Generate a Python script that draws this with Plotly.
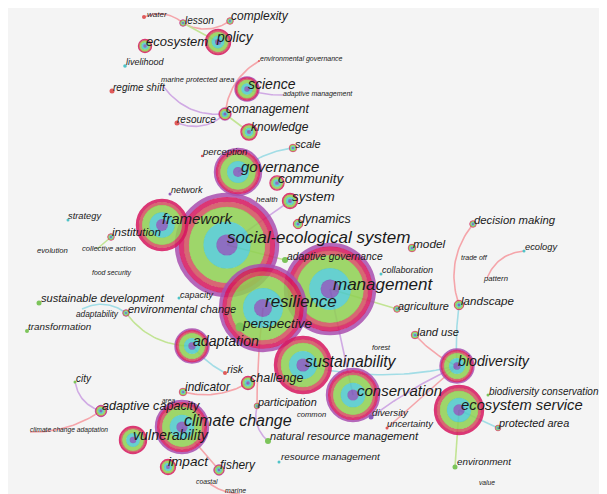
import plotly.graph_objects as go
import numpy as np

# ---------------- data ----------------
names = [
    "water", "lesson", "complexity", "policy", "ecosystem", "livelihood",
    "environmental governance", "marine protected area", "regime shift", "science",
    "adaptive management", "comanagement", "resource", "knowledge", "scale",
    "perception", "governance", "community", "system", "health", "dynamics",
    "network", "strategy", "framework", "institution", "evolution",
    "collective action", "food security", "social-ecological system", "model",
    "adaptive governance", "collaboration", "management", "decision making",
    "ecology", "trade off", "pattern", "landscape", "agriculture",
    "sustainable development", "capacity", "adaptability", "environmental change",
    "transformation", "resilience", "perspective", "forest", "land use",
    "sustainability", "biodiversity", "challenge", "risk", "indicator",
    "adaptation", "conservation", "ecosystem service", "biodiversity conservation",
    "protected area", "diversity", "uncertainty", "common", "participation",
    "natural resource management", "resource management", "city",
    "adaptive capacity", "climate change adaptation", "area", "climate change",
    "vulnerability", "impact", "fishery", "coastal", "marine", "environment", "value",
]

# node layout (network coordinates) and node size (radius)
node_x = [144, 183, 230, 218, 145, 125, 259, 163, 112, 247, 283, 225, 177, 249, 293,
          202, 238, 277, 290, 270, 298, 170, 68, 162, 111, 37, 97, 92, 227, 412,
          285, 381, 330, 473, 524, 470, 487, 459, 397, 39, 179, 82, 126, 27, 263,
          240, 372, 415, 303, 457, 248, 225, 183, 192, 353, 459, 488, 498, 371, 387,
          297, 257, 268, 279, 75, 101, 30, 162, 182, 133, 168, 219, 210, 240, 455, 479]
node_y = [17, 23, 21, 42, 46, 66, 61, 86, 91, 89, 95, 114, 123, 132, 148,
          156, 172, 183, 201, 202, 224, 194, 220, 225, 237, 251, 249, 273, 245, 248,
          260, 274, 289, 224, 251, 258, 278, 305, 309, 303, 298, 309, 313, 331, 308,
          327, 348, 335, 365, 366, 383, 373, 392, 346, 395, 410, 395, 428, 417, 428,
          415, 406, 441, 462, 382, 411, 432, 401, 427, 440, 467, 470, 484, 494, 467, 483]
node_r = [2, 3.5, 3.5, 13, 7, 1.8, 1, 0, 2.5, 12.5, 0, 6.5, 2.5, 8.5, 4,
          1.2, 24, 7.5, 8, 0, 5, 1.5, 1.5, 26, 3.5, 0, 0, 0, 52, 4,
          3, 1.5, 46, 3.5, 1.5, 0, 0, 5, 3.5, 2.5, 1.5, 0, 3.5, 2, 44,
          4.5, 0, 4, 29, 17.5, 7, 2, 4, 17.5, 27, 25, 1.5, 3, 2.5, 1.5,
          0, 3, 3, 1.5, 1.5, 6, 0, 0, 27, 14, 8, 5.5, 0, 0, 2.5, 0]

# label anchors and label sizes
label_x = [147, 185, 231, 217, 146, 126, 260, 161, 113, 248, 283, 226, 177, 251, 295,
           203, 241, 278, 292, 256, 298, 171, 68, 162, 112, 37, 82, 92, 227, 413,
           287, 382, 333, 474, 525, 461, 484, 461, 398, 41, 180, 76, 128, 28, 265,
           243, 372, 417, 305, 458, 250, 227, 185, 193, 357, 461, 489, 499, 372, 387,
           297, 258, 270, 281, 76, 102, 30, 162, 184, 133, 168, 220, 196, 225, 457, 479]
label_y = [15, 21, 17, 38, 43, 63, 59, 80, 88, 85, 94, 110, 120, 128, 145,
           153, 168, 180, 198, 200, 220, 191, 217, 220, 233, 251, 249, 273, 239, 245,
           257, 271, 286, 221, 248, 258, 279, 302, 307, 299, 296, 315, 310, 328, 303,
           325, 348, 333, 363, 362, 379, 370, 388, 342, 392, 406, 392, 424, 414, 425,
           415, 403, 437, 458, 379, 407, 430, 401, 422, 436, 463, 466, 482, 491, 463, 483]
label_size = [8, 10, 12, 14, 13, 9, 7, 7.5, 10, 14, 7, 12, 10, 12, 11,
              9.5, 15, 13.5, 13.5, 8, 12.5, 9, 9.3, 15, 11.6, 7.7, 7.6, 6.9, 17, 11.8,
              10.3, 9, 17, 11.3, 9.3, 7, 7.7, 11.6, 10.9, 11.1, 9, 8.3, 11, 9.9, 17,
              13.5, 7.2, 11.1, 15.8, 14.2, 12.5, 10.3, 11.9, 14.1, 15, 14.8, 10, 10.9, 9.8, 9.4,
              7.6, 10.9, 11.1, 9.9, 10, 12.6, 6.7, 6.5, 16, 14.2, 13.6, 11.9, 6.8, 6.9, 9.8, 6.7]

# co-occurrence links: (from, to)
edge_from = ["water", "lesson", "lesson", "environmental governance", "marine protected area",
             "resource", "science", "comanagement", "governance", "system",
             "decision making", "ecology", "landscape", "land use", "sustainability",
             "diversity", "uncertainty", "ecosystem service", "ecosystem service",
             "adaptation", "indicator", "resilience", "participation", "climate change",
             "city", "climate change adaptation", "institution", "adaptability",
             "environmental change", "management", "social-ecological system",
             "management", "coastal"]
edge_to = ["lesson", "complexity", "policy", "comanagement", "comanagement",
           "comanagement", "adaptive management", "knowledge", "scale", "social-ecological system",
           "landscape", "pattern", "biodiversity", "biodiversity", "biodiversity",
           "biodiversity", "biodiversity", "protected area", "environment",
           "risk", "challenge", "participation", "natural resource management", "fishery",
           "adaptive capacity", "adaptive capacity", "collective action", "environmental change",
           "adaptation", "agriculture", "adaptive governance",
           "conservation", "marine"]

# ---------------- styles ----------------
PINK, GREEN, CYAN, LAV = "#f5a5aa", "#c2e494", "#a2dde6", "#d0aae4"
edge_color = [PINK, PINK, GREEN, PINK, LAV,
              LAV, LAV, GREEN, CYAN, LAV,
              PINK, PINK, CYAN, PINK, CYAN,
              LAV, PINK, CYAN, GREEN,
              CYAN, PINK, PINK, LAV, PINK,
              LAV, PINK, GREEN, CYAN,
              GREEN, GREEN, GREEN,
              LAV, PINK]
edge_bend = [-0.3, 0.3, 0, 0.25, 0.28,
             0.3, 0.1, 0, -0.15, 0,
             0.27, 0.3, 0.05, 0.1, 0.12,
             -0.05, 0, 0, 0,
             0.1, 0.2, 0.03, 0.3, 0,
             0.3, 0.16, 0, -0.3,
             0.25, 0, 0,
             0, 0.15]

# ring profiles: outer radius fraction -> colour (outermost first)
PROFILES = {
    "A": [(1.0, "#a94fb0"), (0.92, "#d6175f"), (0.83, "#d2505e"),
          (0.73, "#8fd153"), (0.45, "#4ec9c9"), (0.2, "#7b58b8")],
    "B": [(1.0, "#d6175f"), (0.88, "#d2505e"), (0.76, "#8fd153"),
          (0.48, "#4ec9c9"), (0.22, "#7b58b8")],
}
DOTS = {"r": "#e05a5a", "c": "#4fc3c8", "g": "#7cc45a", "p": "#8a5ab8"}
node_kind = ["r", "A", "B", "B", "B", "c", "r", "-", "r", "A", "-", "A", "r", "B", "B",
             "r", "A", "B", "B", "-", "B", "p", "c", "B", "B", "-", "-", "-", "A", "B",
             "g", "c", "A", "B", "c", "-", "-", "B", "B", "g", "c", "-", "A", "g", "A",
             "g", "-", "B", "B", "A", "B", "r", "B", "A", "A", "B", "g", "B", "p", "r",
             "-", "B", "g", "c", "g", "A", "-", "-", "A", "B", "B", "A", "-", "-", "g", "-"]
OPACITY = 0.86

# ---------------- build ----------------
idx = {n: i for i, n in enumerate(names)}
fig = go.Figure()

# edges (quadratic bezier curves between node positions)
for col in [PINK, GREEN, CYAN, LAV]:
    xs, ys = [], []
    for a, b, c, bend in zip(edge_from, edge_to, edge_color, edge_bend):
        if c != col:
            continue
        ax, ay = node_x[idx[a]], node_y[idx[a]]
        bx, by = node_x[idx[b]], node_y[idx[b]]
        dx, dy = bx - ax, by - ay
        L = np.hypot(dx, dy)
        mx, my = (ax + bx) / 2, (ay + by) / 2
        cx, cy = mx + bend * L * (-dy / L), my + bend * L * (dx / L)
        t = np.linspace(0, 1, 30)
        xs += list((1 - t) ** 2 * ax + 2 * (1 - t) * t * cx + t ** 2 * bx) + [None]
        ys += list((1 - t) ** 2 * ay + 2 * (1 - t) * t * cy + t ** 2 * by) + [None]
    fig.add_trace(go.Scatter(x=xs, y=ys, mode="lines", line=dict(color=col, width=1.6),
                             hoverinfo="skip"))

# nodes: concentric annuli (open-circle strokes) + filled core, big nodes first
order = sorted(range(len(names)), key=lambda i: -node_r[i])
for i in order:
    r = node_r[i]
    if r <= 0:
        continue
    k = node_kind[i]
    if k in PROFILES:
        prof = PROFILES[k]
        for j, (frac, col) in enumerate(prof[:-1]):
            r_out = r * frac
            r_in = r * prof[j + 1][0]
            fig.add_trace(go.Scatter(
                x=[node_x[i]], y=[node_y[i]], mode="markers",
                marker=dict(symbol="circle-open", size=r_out + r_in, color=col,
                            line=dict(color=col, width=r_out - r_in + 0.4),
                            opacity=OPACITY),
                hoverinfo="skip"))
        core = 2 * r * prof[-1][0]
        fig.add_trace(go.Scatter(
            x=[node_x[i]], y=[node_y[i]], mode="markers",
            marker=dict(size=core + 0.4, color=prof[-1][1], opacity=OPACITY,
                        line=dict(width=0)),
            hoverinfo="skip"))
    else:
        fig.add_trace(go.Scatter(
            x=[node_x[i]], y=[node_y[i]], mode="markers",
            marker=dict(size=2 * r, color=DOTS.get(k, "#888"), line=dict(width=0)),
            hoverinfo="skip"))

# labels
fig.add_trace(go.Scatter(x=label_x, y=label_y, mode="text", text=names,
                         textposition="middle right", cliponaxis=False,
                         textfont=dict(family="Liberation Sans", size=label_size,
                                       color="#1a1a1a", style="italic"),
                         hoverinfo="skip"))

# page body keeps its default 8px margin, so the plot area starts at (8, 8)
fig.update_layout(
    width=599, height=486, margin=dict(l=0, r=0, t=0, b=0),
    paper_bgcolor="#f4f4f4", plot_bgcolor="#f4f4f4", showlegend=False,
    xaxis=dict(range=[8, 607], visible=False),
    yaxis=dict(range=[494, 8], visible=False),
)
fig.write_html("out.html")
